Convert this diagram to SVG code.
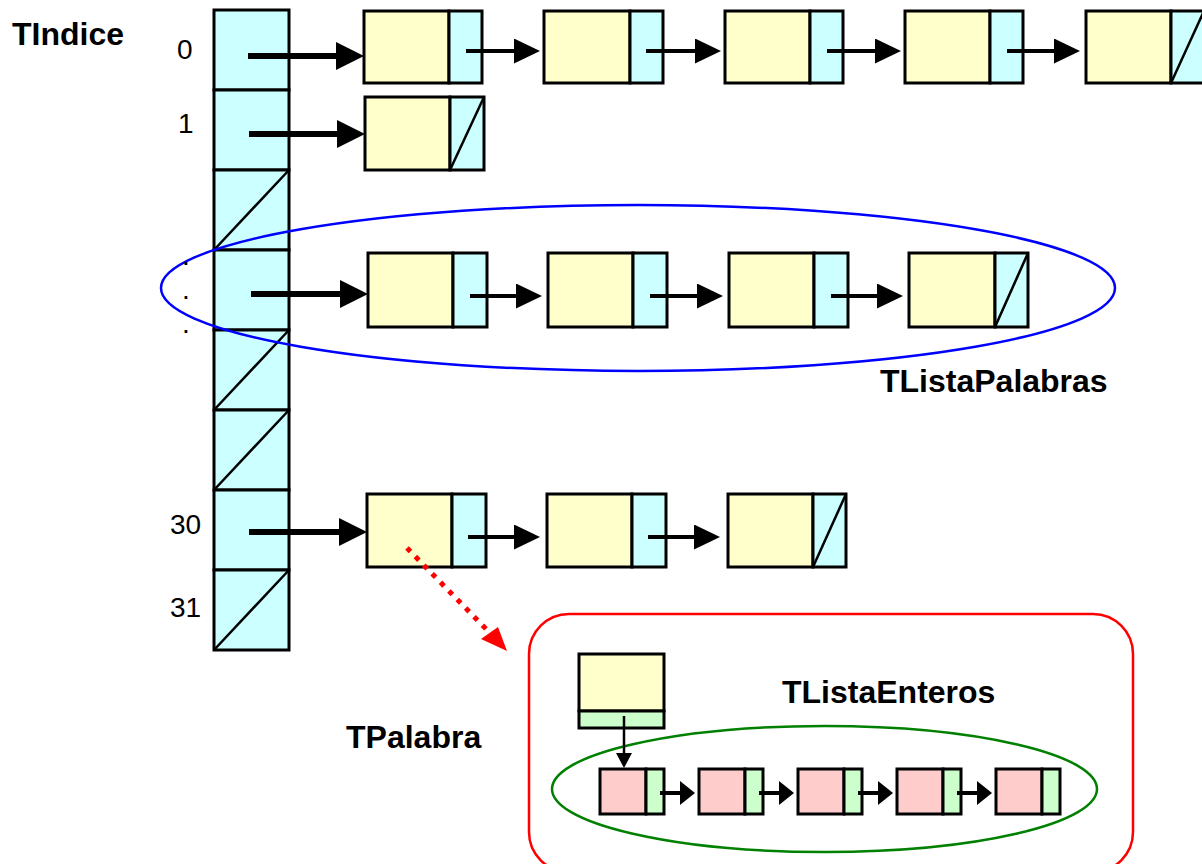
<svg xmlns="http://www.w3.org/2000/svg" width="1202" height="864" viewBox="0 0 1202 864">
<style>
.y{fill:#FFFFCC;stroke:#000;stroke-width:3}
.c{fill:#CCFFFF;stroke:#000;stroke-width:3}
.p{fill:#FFCCCC;stroke:#000;stroke-width:3}
.g{fill:#CCFFCC;stroke:#000;stroke-width:3}
.nul{stroke:#000;stroke-width:2.5;fill:none}
.big{stroke:#000;stroke-width:6;fill:none;marker-end:url(#bigHead)}
.sm{stroke:#000;stroke-width:4;fill:none;marker-end:url(#smHead)}
.pk{stroke:#000;stroke-width:4;fill:none;marker-end:url(#pkHead)}
.lbl{font-family:"Liberation Sans",Arial,sans-serif;font-size:32px;font-weight:bold;fill:#000}
.num{font-family:"Liberation Sans",Arial,sans-serif;font-size:28px;fill:#000}
</style>
<defs>
<marker id="bigHead" markerUnits="userSpaceOnUse" markerWidth="30" markerHeight="30" viewBox="0 0 30 30" refX="2" refY="14" orient="auto"><path d="M0,0 L28,14 L0,28 z" fill="#000"/></marker>
<marker id="smHead" markerUnits="userSpaceOnUse" markerWidth="28" markerHeight="28" viewBox="0 0 28 28" refX="2" refY="12.5" orient="auto"><path d="M0,0 L26,12.5 L0,25 z" fill="#000"/></marker>
<marker id="pkHead" markerUnits="userSpaceOnUse" markerWidth="20" markerHeight="26" viewBox="0 0 20 26" refX="2" refY="12" orient="auto"><path d="M0,0 L15,12 L0,24 z" fill="#000"/></marker>
</defs>

<g id="indice">
<rect class="c" x="214" y="10" width="75" height="80"/>
<rect class="c" x="214" y="90" width="75" height="80"/>
<rect class="c" x="214" y="170" width="75" height="80"/>
<rect class="c" x="214" y="250" width="75" height="80"/>
<rect class="c" x="214" y="330" width="75" height="80"/>
<rect class="c" x="214" y="410" width="75" height="80"/>
<rect class="c" x="214" y="490" width="75" height="80"/>
<rect class="c" x="214" y="570" width="75" height="80"/>
<line class="nul" x1="214" y1="250" x2="289" y2="170"/>
<line class="nul" x1="214" y1="410" x2="289" y2="330"/>
<line class="nul" x1="214" y1="490" x2="289" y2="410"/>
<line class="nul" x1="214" y1="650" x2="289" y2="570"/>
</g>

<g id="listaPalabrasGroup"><ellipse cx="638" cy="288" rx="477" ry="83" fill="none" stroke="#0000FF" stroke-width="2.5"/></g>
<g id="tpalabraBox"><rect x="529" y="614" width="604" height="258" rx="40" ry="40" fill="none" stroke="#FF0000" stroke-width="2.5"/></g>
<g id="listaEnterosGroup"><ellipse cx="824.5" cy="789" rx="272.5" ry="63" fill="none" stroke="#008000" stroke-width="2.5"/></g>

<g id="r0n0" transform="translate(364,11)"><rect class="y" width="85" height="72"/><rect class="c" x="85" width="33" height="72"/></g>
<g id="r0n1" transform="translate(544,11)"><rect class="y" width="86" height="72"/><rect class="c" x="86" width="33" height="72"/></g>
<g id="r0n2" transform="translate(725,11)"><rect class="y" width="85" height="72"/><rect class="c" x="85" width="33" height="72"/></g>
<g id="r0n3" transform="translate(905,11)"><rect class="y" width="85" height="72"/><rect class="c" x="85" width="33" height="72"/></g>
<g id="r0n4" transform="translate(1086,11)"><rect class="y" width="85" height="72"/><rect class="c" x="85" width="33" height="72"/><line class="nul" x1="85" y1="72" x2="118" y2="0"/></g>

<g id="r1n0" transform="translate(365,97)"><rect class="y" width="85" height="73"/><rect class="c" x="85" width="34" height="73"/><line class="nul" x1="85" y1="73" x2="119" y2="0"/></g>

<g id="r3n0" transform="translate(368,253)"><rect class="y" width="85" height="74"/><rect class="c" x="85" width="34" height="74"/></g>
<g id="r3n1" transform="translate(548,253)"><rect class="y" width="85" height="74"/><rect class="c" x="85" width="34" height="74"/></g>
<g id="r3n2" transform="translate(729,253)"><rect class="y" width="85" height="74"/><rect class="c" x="85" width="34" height="74"/></g>
<g id="r3n3" transform="translate(909,253)"><rect class="y" width="86" height="74"/><rect class="c" x="86" width="33" height="74"/><line class="nul" x1="86" y1="74" x2="119" y2="0"/></g>

<g id="r30n0" transform="translate(367,494)"><rect class="y" width="85" height="73"/><rect class="c" x="85" width="34" height="73"/></g>
<g id="r30n1" transform="translate(547,494)"><rect class="y" width="85" height="73"/><rect class="c" x="85" width="34" height="73"/></g>
<g id="r30n2" transform="translate(728,494)"><rect class="y" width="85" height="73"/><rect class="c" x="85" width="33" height="73"/><line class="nul" x1="85" y1="73" x2="118" y2="0"/></g>

<g id="palabra" transform="translate(579,654)"><rect class="y" width="85" height="57"/><rect class="g" y="57" width="85" height="17"/></g>

<g id="e0" transform="translate(600,769)"><rect class="p" width="46" height="45"/><rect class="g" x="46" width="18" height="45"/></g>
<g id="e1" transform="translate(699,769)"><rect class="p" width="46" height="45"/><rect class="g" x="46" width="18" height="45"/></g>
<g id="e2" transform="translate(798,769)"><rect class="p" width="46" height="45"/><rect class="g" x="46" width="18" height="45"/></g>
<g id="e3" transform="translate(897,769)"><rect class="p" width="46" height="45"/><rect class="g" x="46" width="18" height="45"/></g>
<g id="e4" transform="translate(996,769)"><rect class="p" width="46" height="45"/><rect class="g" x="46" width="18" height="45"/></g>

<g id="connectors">
<line class="big" x1="248" y1="56" x2="338" y2="56"/>
<line class="big" x1="249" y1="134" x2="339" y2="134"/>
<line class="big" x1="251" y1="294" x2="342" y2="294"/>
<line class="big" x1="249" y1="532" x2="341" y2="532"/>

<line class="sm" x1="466" y1="51" x2="516" y2="51"/>
<line class="sm" x1="646" y1="51" x2="697" y2="51"/>
<line class="sm" x1="827" y1="51" x2="877" y2="51"/>
<line class="sm" x1="1007" y1="51" x2="1056" y2="51"/>

<line class="sm" x1="470" y1="296" x2="518" y2="296"/>
<line class="sm" x1="650" y1="296" x2="699" y2="296"/>
<line class="sm" x1="831" y1="296" x2="879" y2="296"/>

<line class="sm" x1="468" y1="537" x2="516" y2="537"/>
<line class="sm" x1="648" y1="537" x2="696" y2="537"/>

<line x1="407" y1="548" x2="488" y2="631" stroke="#FF0000" stroke-width="5" stroke-dasharray="5 7"/>
<polygon points="481,639 498,627 507,651" fill="#FF0000"/>

<line x1="624" y1="716" x2="624" y2="755" stroke="#000" stroke-width="2.5"/>
<polygon points="616,753 632,753 624,768" fill="#000"/>

<line class="pk" x1="660" y1="793" x2="682" y2="793"/>
<line class="pk" x1="759" y1="793" x2="781" y2="793"/>
<line class="pk" x1="858" y1="793" x2="880" y2="793"/>
<line class="pk" x1="957" y1="793" x2="979" y2="793"/>
</g>

<g id="labels">
<text class="lbl" x="12" y="45">TIndice</text>
<text class="lbl" x="880" y="392">TListaPalabras</text>
<text class="lbl" x="782" y="703">TListaEnteros</text>
<text class="lbl" x="346" y="748">TPalabra</text>
<text class="num" x="177" y="59">0</text>
<text class="num" x="178" y="133">1</text>
<text class="num" x="182" y="265">.</text>
<text class="num" x="182" y="299">.</text>
<text class="num" x="182" y="333">.</text>
<text class="num" x="170" y="534">30</text>
<text class="num" x="170" y="617">31</text>
</g>
</svg>
